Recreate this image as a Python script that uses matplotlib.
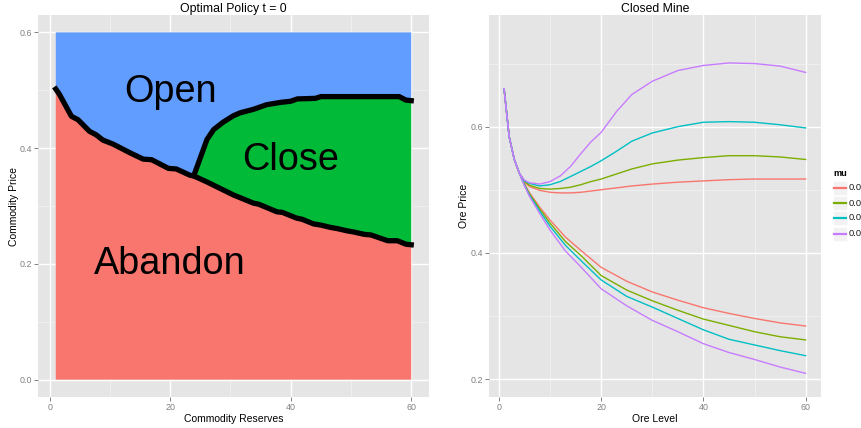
import matplotlib
matplotlib.use("Agg")
import matplotlib.pyplot as plt
from matplotlib.lines import Line2D
from matplotlib.patches import Rectangle

plt.rcParams['font.family'] = ['Liberation Sans', 'DejaVu Sans']

# boundary between abandon and the other regions (reserves, price)
abandon_x = [1, 1.6, 3.6, 4.7, 6.6, 7.7, 8.8, 10.5, 13.3, 15.5, 16.9, 19.7, 21, 23.3, 23.9,
             26, 30.5, 33.8, 34.7, 37.7, 38.6, 41, 41.9, 43.8, 45, 46.6, 47.7, 49.4, 50.5,
             52.2, 53.3, 56.1, 57.7, 59.1, 60]
abandon_y = [0.502, 0.493, 0.455, 0.449, 0.429, 0.423, 0.414, 0.407, 0.392, 0.381, 0.380,
             0.365, 0.364, 0.353, 0.352, 0.342, 0.319, 0.305, 0.303, 0.290, 0.289, 0.279,
             0.277, 0.269, 0.267, 0.263, 0.261, 0.257, 0.255, 0.251, 0.250, 0.240, 0.240,
             0.234, 0.233]
# boundary between close and open
close_x = [23.9, 26.1, 27.2, 28.8, 30.5, 31.6, 33.8, 34.9, 36, 38.3, 40, 41.1, 44.1, 45, 58, 59.1, 60]
close_y = [0.352, 0.415, 0.432, 0.445, 0.456, 0.461, 0.467, 0.471, 0.475, 0.479, 0.481, 0.485,
           0.486, 0.489, 0.489, 0.483, 0.482]
price_max = 0.6

region_labels = ['Open', 'Close', 'Abandon']
region_pos = [(20, 0.497), (40, 0.38), (20, 0.2)]

# closed mine thresholds for each mu
mu_labels = ['0.01', '0.02', '0.03', '0.04']
mu_colors = ['#F8766D', '#7CAE00', '#00BFC4', '#C77CFF']

upper_x = [1, 2, 3, 4, 5, 6, 8, 10, 12, 14, 16, 18, 20, 23, 26, 30, 35, 40, 45, 50, 55, 60]
upper_y = [
    [0.66, 0.584, 0.548, 0.526, 0.512, 0.505, 0.499, 0.496, 0.495, 0.495, 0.496, 0.498, 0.500,
     0.503, 0.506, 0.509, 0.512, 0.514, 0.516, 0.517, 0.517, 0.517],
    [0.66, 0.584, 0.548, 0.526, 0.513, 0.507, 0.502, 0.501, 0.502, 0.504, 0.508, 0.513, 0.517,
     0.525, 0.533, 0.541, 0.547, 0.551, 0.554, 0.554, 0.552, 0.548],
    [0.66, 0.584, 0.548, 0.526, 0.514, 0.510, 0.506, 0.508, 0.513, 0.521, 0.529, 0.537, 0.546,
     0.561, 0.577, 0.590, 0.600, 0.607, 0.608, 0.607, 0.603, 0.598],
    [0.66, 0.584, 0.548, 0.526, 0.515, 0.511, 0.509, 0.513, 0.522, 0.537, 0.557, 0.576, 0.591,
     0.624, 0.651, 0.672, 0.689, 0.697, 0.701, 0.700, 0.696, 0.686],
]
lower_x = [1, 2, 3, 4, 5, 6, 8, 10, 13, 16, 20, 25, 30, 35, 40, 45, 50, 55, 60]
lower_y = [
    [0.66, 0.584, 0.548, 0.526, 0.509, 0.495, 0.472, 0.452, 0.425, 0.404, 0.377, 0.355, 0.338,
     0.325, 0.313, 0.304, 0.296, 0.289, 0.284],
    [0.66, 0.584, 0.548, 0.526, 0.508, 0.493, 0.469, 0.447, 0.418, 0.396, 0.364, 0.341, 0.324,
     0.309, 0.295, 0.285, 0.275, 0.267, 0.262],
    [0.66, 0.584, 0.548, 0.526, 0.507, 0.491, 0.466, 0.442, 0.412, 0.388, 0.357, 0.331, 0.314,
     0.296, 0.278, 0.263, 0.254, 0.245, 0.237],
    [0.66, 0.584, 0.548, 0.526, 0.506, 0.489, 0.462, 0.436, 0.403, 0.378, 0.343, 0.316, 0.293,
     0.275, 0.256, 0.242, 0.231, 0.219, 0.209],
]

W, H = 862, 428
fig = plt.figure(figsize=(W / 100, H / 100), dpi=100)


def px_axes(x0, x1, y0, y1):
    return fig.add_axes([x0 / W, 1 - y1 / H, (x1 - x0) / W, (y1 - y0) / H])


def gg_style(ax, xmajor, xminor, ymajor, yminor):
    ax.set_facecolor('#E5E5E5')
    for s in ax.spines.values():
        s.set_visible(False)
    ax.set_xticks(xmajor)
    ax.set_yticks(ymajor)
    ax.set_xticks(xminor, minor=True)
    ax.set_yticks(yminor, minor=True)
    ax.grid(True, which='major', color='white', lw=1.0)
    ax.grid(True, which='minor', color='#F2F2F2', lw=0.6)
    ax.set_axisbelow(True)
    ax.tick_params(which='major', length=3, width=0.7, color='#808080', labelcolor='#808080',
                   labelsize=6.4, pad=1.5)
    ax.tick_params(which='minor', length=0)


# left: optimal policy regions
ax1 = px_axes(38, 429, 15, 397)
gg_style(ax1, [0, 20, 40, 60], [10, 30, 50], [0.0, 0.2, 0.4, 0.6], [0.1, 0.3, 0.5])
ax1.set_yticklabels(['0.0', '0.2', '0.4', '0.6'])

k = abandon_x.index(close_x[0])
# abandon (below the lower boundary)
ax1.fill([abandon_x[0]] + abandon_x + [abandon_x[-1]],
         [0] + abandon_y + [0], color='#F8766D', lw=0)
# close (between both boundaries)
ax1.fill(close_x + abandon_x[k:][::-1], close_y + abandon_y[k:][::-1], color='#00BA38', lw=0)
# open (above everything)
ax1.fill([abandon_x[0]] + abandon_x[:k + 1] + close_x[1:] + [close_x[-1], abandon_x[0]],
         [price_max] + abandon_y[:k + 1] + close_y[1:] + [price_max, price_max],
         color='#619CFF', lw=0)
ax1.plot(abandon_x, abandon_y, color='black', lw=3.8, solid_joinstyle='round')
ax1.plot(close_x, close_y, color='black', lw=3.8, solid_joinstyle='round')

for lab, (x, y) in zip(region_labels, region_pos):
    ax1.text(x, y, lab, fontsize=27.3, ha='center', va='center', color='black')

ax1.set_xlim(-1.95, 62.95)
ax1.set_ylim(-0.03, 0.63)
ax1.set_title('Optimal Policy t = 0', fontsize=8.8, pad=2)
ax1.set_xlabel('Commodity Reserves', fontsize=7.5, labelpad=1)
ax1.set_ylabel('Commodity Price', fontsize=7.5, labelpad=0)

# right: closed mine
ax2 = px_axes(489, 820.7, 15, 397)
gg_style(ax2, [0, 20, 40, 60], [10, 30, 50], [0.2, 0.4, 0.6], [0.3, 0.5, 0.7])
for i in range(len(mu_labels)):
    ax2.plot(upper_x, upper_y[i], color=mu_colors[i], lw=1.0)
    ax2.plot(lower_x, lower_y[i], color=mu_colors[i], lw=1.0)
ax2.set_xlim(-1.95, 62.95)
ax2.set_ylim(0.1715, 0.777)
ax2.set_title('Closed Mine', fontsize=8.8, pad=2)
ax2.set_xlabel('Ore Level', fontsize=7.5, labelpad=1)
ax2.set_ylabel('Ore Price', fontsize=7.5, labelpad=1)

# legend for mu, drawn by hand in ggplot style
fig.text(833 / W, 1 - 174 / H, 'mu', fontsize=6.6, fontweight='bold', va='center', ha='left')
key_y = [188, 203, 218, 234]
for lab, col, yk in zip(mu_labels, mu_colors, key_y):
    fig.add_artist(Rectangle((833 / W, 1 - (yk + 7) / H), 14 / W, 14 / H,
                             transform=fig.transFigure, facecolor='#F2F2F2', edgecolor='white',
                             lw=0.5))
    fig.add_artist(Line2D([834 / W, 846 / W], [1 - yk / H, 1 - yk / H],
                          transform=fig.transFigure, color=col, lw=1.6))
    fig.text(849 / W, 1 - yk / H, lab, fontsize=6.7, va='center', ha='left', color='#1A1A1A')

fig.savefig('out.png', dpi=100)
